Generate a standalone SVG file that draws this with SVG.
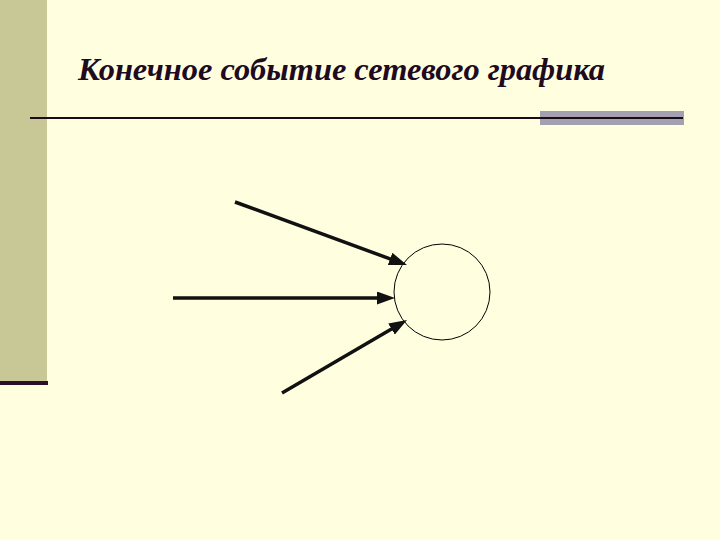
<svg xmlns="http://www.w3.org/2000/svg" width="720" height="540" viewBox="0 0 720 540">
<style>
.title{font-family:"Times New Roman","Liberation Serif",serif;font-weight:700;font-style:italic;font-size:31px;fill:#200a20}
.arr{stroke:#111;stroke-width:3.5;fill:none}
</style>
<defs>
<marker id="ah" markerUnits="userSpaceOnUse" markerWidth="18" markerHeight="13" viewBox="0 0 18 13" refX="5" refY="6.5" orient="auto">
<path d="M0,0 L18,6.5 L0,13 z" fill="#111"/>
</marker>
</defs>
<rect x="0" y="0" width="720" height="540" fill="#ffffe0"/>
<rect x="0" y="0" width="47" height="383" fill="#c8c896"/>
<rect x="0" y="381" width="48" height="4" fill="#2d0f28"/>
<rect x="540" y="111" width="144" height="14" fill="#a3a1b0"/>
<line x1="30" y1="118" x2="683" y2="118" stroke="#1a0a1a" stroke-width="2"/>
<text class="title" x="78" y="80" textLength="527" lengthAdjust="spacingAndGlyphs">Конечное событие сетевого графика</text>
<g id="node-event">
<circle cx="442" cy="292" r="48" fill="none" stroke="#000" stroke-width="1"/>
</g>
<g id="connectors">
<line class="arr" x1="235" y1="202" x2="394.8" y2="260.6" marker-end="url(#ah)"/>
<line class="arr" x1="173" y1="298" x2="382" y2="298" marker-end="url(#ah)"/>
<line class="arr" x1="282" y1="393" x2="395.8" y2="326.5" marker-end="url(#ah)"/>
</g>
</svg>
